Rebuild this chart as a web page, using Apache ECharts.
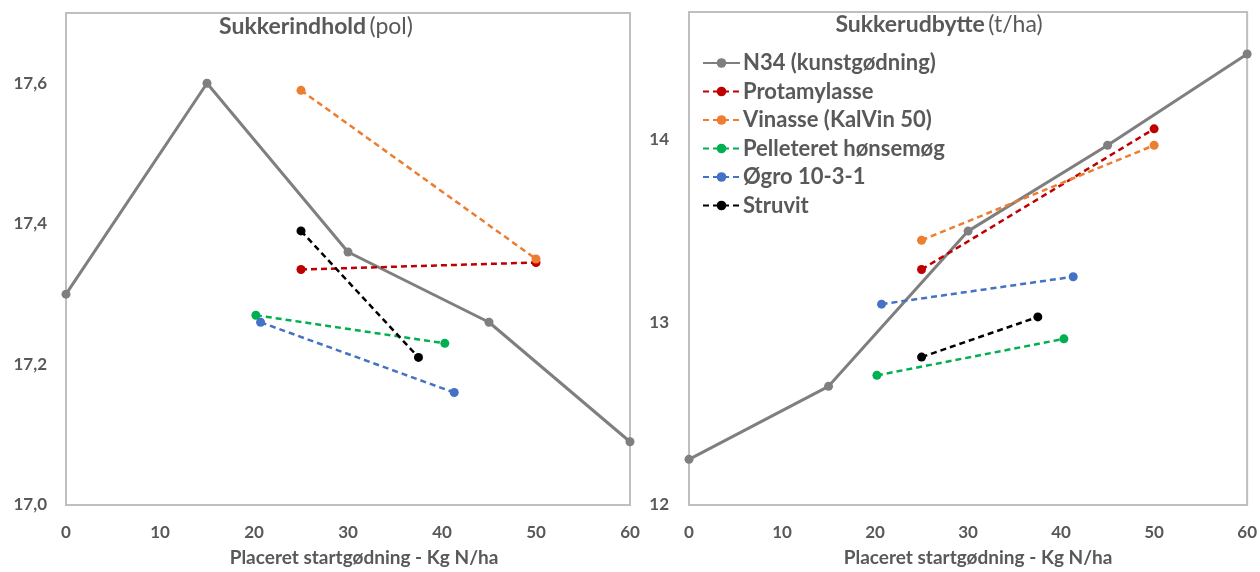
<!DOCTYPE html>
<html><head><meta charset="utf-8">
<script src="https://cdn.jsdelivr.net/npm/echarts@6/dist/echarts.min.js"></script>
<style>html,body{margin:0;padding:0;background:#fff}#c{width:1260px;height:572px}</style>
</head><body><div id="c"></div>
<script>
// Shared x values (Kg N/ha)
const n34X = [0, 15, 30, 45, 60];
const protX = [25, 50];
const vinX = [25, 50];
const pelX = [20.2, 40.3];
const ogroX = [20.7, 41.3];
const struX = [25, 37.5];

// Left: Sukkerindhold (pol)
const n34Pol = [17.30, 17.60, 17.36, 17.26, 17.09];
const protPol = [17.335, 17.345];
const vinPol = [17.59, 17.35];
const pelPol = [17.27, 17.23];
const ogroPol = [17.26, 17.16];
const struPol = [17.39, 17.21];

// Right: Sukkerudbytte (t/ha)
const n34Yield = [12.25, 12.65, 13.50, 13.97, 14.47];
const protYield = [13.29, 14.06];
const vinYield = [13.45, 13.97];
const pelYield = [12.71, 12.91];
const ogroYield = [13.10, 13.25];
const struYield = [12.81, 13.03];

const seriesNames = ['N34 (kunstgødning)', 'Protamylasse', 'Vinasse (KalVin 50)', 'Pelleteret hønsemøg', 'Øgro 10-3-1', 'Struvit'];
const colors = ['#7f7f7f', '#c00000', '#ed7d31', '#00b050', '#4472c4', '#000000'];
const xs = [n34X, protX, vinX, pelX, ogroX, struX];
const pols = [n34Pol, protPol, vinPol, pelPol, ogroPol, struPol];
const yields = [n34Yield, protYield, vinYield, pelYield, ogroYield, struYield];

const FONT = 'Lato';
const TXT = '#595959';

function mk(i, grid, ys) {
  const solid = i === 0;
  return {
    name: seriesNames[i], type: 'line', xAxisIndex: grid, yAxisIndex: grid,
    data: xs[i].map((x, k) => [x, ys[k]]),
    symbol: 'circle', symbolSize: 9, showSymbol: true,
    lineStyle: { color: colors[i], width: solid ? 3 : 2.5, type: solid ? 'solid' : [6, 4] },
    itemStyle: { color: colors[i] },
    animation: false, z: solid ? 2 : 3
  };
}
const series = [];
for (let i = 0; i < 6; i++) series.push(mk(i, 0, pols[i]));
for (let i = 0; i < 6; i++) series.push(mk(i, 1, yields[i]));

const axLabel = { color: TXT, fontSize: 17, fontWeight: 'bold', fontFamily: FONT, margin: 19 };
function xAx(grid) {
  return {
    type: 'value', gridIndex: grid, min: 0, max: 60, interval: 10,
    axisLine: { show: false }, axisTick: { show: false }, splitLine: { show: false },
    axisLabel: axLabel,
    name: 'Placeret startgødning - Kg N/ha', nameLocation: 'middle', nameGap: 43,
    nameTextStyle: { color: TXT, fontSize: 19, fontWeight: 'bold', fontFamily: FONT, padding: [0, 0, 0, grid === 0 ? 32 : 20] }
  };
}

const chart = echarts.init(document.getElementById('c'));
chart.setOption({
  animation: false,
  grid: [
    { left: 66, top: 13, width: 564, height: 495, show: true, borderColor: '#bfbfbf', borderWidth: 2, backgroundColor: 'transparent' },
    { left: 689, top: 12, width: 560, height: 496, show: true, borderColor: '#bfbfbf', borderWidth: 2, backgroundColor: 'transparent' }
  ],
  xAxis: [xAx(0), xAx(1)],
  yAxis: [
    { type: 'value', gridIndex: 0, min: 17.0, max: 17.7, interval: 0.2,
      axisLine: { show: false }, axisTick: { show: false }, splitLine: { show: false },
      axisLabel: Object.assign({}, axLabel, { showMaxLabel: false, formatter: v => v.toFixed(1).replace('.', ',') }) },
    { type: 'value', gridIndex: 1, min: 12, max: 14.7, interval: 1,
      axisLine: { show: false }, axisTick: { show: false }, splitLine: { show: false },
      axisLabel: Object.assign({}, axLabel, { showMaxLabel: false, margin: 20 }) }
  ],
  legend: {
    data: seriesNames, orient: 'vertical', left: 697, top: 47,
    itemWidth: 37, itemHeight: 12, itemGap: 6.5,
    textStyle: { color: TXT, fontSize: 22, fontWeight: 'bold', fontFamily: FONT, padding: [0, 0, 0, -2] },
    selectedMode: false
  },
  graphic: [
    { type: 'text', position: [316, 27], style: {
        text: '{b|Sukkerindhold} {n|(pol)}', x: 0, y: 0, align: 'center', verticalAlign: 'middle',
        rich: { b: { fontSize: 23, fontWeight: 'bold', fill: TXT, fontFamily: FONT }, n: { fontSize: 23, fill: TXT, fontFamily: FONT } } } },
    { type: 'text', position: [939, 25], style: {
        text: '{b|Sukkerudbytte} {n|(t/ha)}', x: 0, y: 0, align: 'center', verticalAlign: 'middle',
        rich: { b: { fontSize: 23, fontWeight: 'bold', fill: TXT, fontFamily: FONT }, n: { fontSize: 23, fill: TXT, fontFamily: FONT } } } }
  ],
  series: series
});
</script></body></html>
